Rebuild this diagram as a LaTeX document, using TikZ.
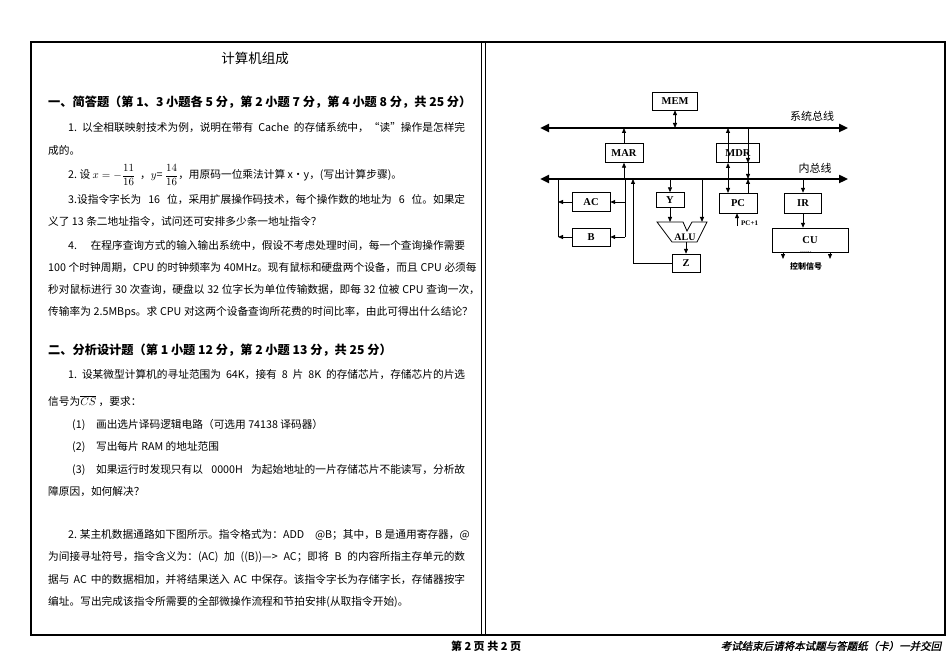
\documentclass[tikz,border=0pt]{standalone}
\usepackage{amsmath}
\usepackage{fontspec}
\setmainfont{Noto Sans CJK SC}
\newfontfamily\tnr{Liberation Serif}
\newfontfamily\cjkit[FakeSlant=0.2,FakeBold=1.5]{Noto Sans CJK SC}
\usetikzlibrary{arrows.meta}
\XeTeXlinebreaklocale "zh"
\XeTeXlinebreakskip=0pt plus 3pt minus 1pt
\newcommand\JA[1]{\spaceskip=0.3em plus 0.5pt minus 0.5pt\hbox to 397pt{#1}}
\newcommand\JB[1]{\spaceskip=0.3em plus 0.5pt minus 0.5pt\hbox to 417pt{#1}}
\begin{document}
\begin{tikzpicture}[x=1pt,y=-1pt,
  txt/.style={anchor=west,inner sep=0pt,font=\fontsize{10.7}{12}\selectfont},
  hd/.style={anchor=west,inner sep=0pt,font=\fontsize{12.2}{14}\selectfont\bfseries},
  reg/.style={draw,inner sep=0pt,font=\tnr\bfseries\fontsize{10.5}{12}\selectfont},
  bus/.style={line width=2.6pt,{Triangle[length=9pt,width=8pt]}-{Triangle[length=9pt,width=8pt]}},
  ar/.style={-{Triangle[length=5pt,width=4pt]},line width=0.8pt},
  dar/.style={{Triangle[length=5pt,width=4pt]}-{Triangle[length=5pt,width=4pt]},line width=0.8pt},
  ln/.style={line width=0.8pt}]
\useasboundingbox (0,0) rectangle (950,671);
\fill[white] (0,0) rectangle (950,671);
% frame
\draw[line width=1.3pt] (31,42) rectangle (945,635);
\draw[line width=0.8pt] (481,42) -- (481,635);
\draw[line width=0.8pt] (485,42) -- (485,635);
% left column text
\node[anchor=center,inner sep=0pt,font=\fontsize{13.5}{15}\selectfont] (title) at (255,58) {计算机组成};
\node[hd] (h1) at (48,102) {一、简答题（第 1、3 小题各 5 分，第 2 小题 7 分，第 4 小题 8 分，共 25 分）};
\node[txt] (l1) at (68,128) {\JA{1.\ 以全相联映射技术为例，说明在带有 Cache 的存储系统中，“读”操作是怎样完}};
\node[txt] (l2) at (48,150) {成的。};
\node[txt] (l3) at (68,175) {2.\ 设 $x=-\dfrac{11}{16}$ \ ，$y$= $\dfrac{14}{16}$，用原码一位乘法计算 x•y，(写出计算步骤)。};
\node[txt] (l4) at (68,200) {\JA{3.设指令字长为 16 位，采用扩展操作码技术，每个操作数的地址为 6 位。如果定}};
\node[txt] (l5) at (48,222) {义了 13 条二地址指令，试问还可安排多少条一地址指令？};
\node[txt] (l6) at (68,246) {\JA{4.\ 在程序查询方式的输入输出系统中，假设不考虑处理时间，每一个查询操作需要}};
\node[txt] (l7) at (48,268) {\JB{100 个时钟周期，CPU 的时钟频率为 40MHz。现有鼠标和硬盘两个设备，而且 CPU 必须每}};
\node[txt] (l8) at (48,290) {\JB{秒对鼠标进行 30 次查询，硬盘以 32 位字长为单位传输数据，即每 32 位被 CPU 查询一次，}};
\node[txt] (l9) at (48,312) {\JB{传输率为 2.5MBps。求 CPU 对这两个设备查询所花费的时间比率，由此可得出什么结论？}};
\node[hd] (h2) at (48,350) {二、分析设计题（第 1 小题 12 分，第 2 小题 13 分，共 25 分）};
\node[txt] (m1) at (68,375) {\JA{1.\ 设某微型计算机的寻址范围为 64K，接有 8 片 8K 的存储芯片，存储芯片的片选}};
\node[txt] (m2) at (48,401) {信号为$\overline{CS}$ ，要求：};
\node[txt] (m3) at (72,425) {(1)\quad 画出选片译码逻辑电路（可选用 74138 译码器）};
\node[txt] (m4) at (72,447) {(2)\quad 写出每片 RAM 的地址范围};
\node[txt] (m5) at (72,470) {\spaceskip=0.3em plus 0.5pt minus 0.5pt\hbox to 393pt{(3)\quad 如果运行时发现只有以 0000H 为起始地址的一片存储芯片不能读写，分析故}};
\node[txt] (m6) at (48,492) {障原因，如何解决？};
\node[txt] (n1) at (68,535) {\JA{2.\ 某主机数据通路如下图所示。指令格式为：ADD\quad @B；其中，B 是通用寄存器，@}};
\node[txt] (n2) at (48,557) {\JB{为间接寻址符号，指令含义为：(AC) 加 ((B))—> AC；即将 B 的内容所指主存单元的数}};
\node[txt] (n3) at (48,580) {\JB{据与 AC 中的数据相加，并将结果送入 AC 中保存。该指令字长为存储字长，存储器按字}};
\node[txt] (n4) at (48,602) {编址。写出完成该指令所需要的全部微操作流程和节拍安排(从取指令开始)。};
% footer
\node[inner sep=0pt,font=\fontsize{11}{12}\selectfont\bfseries] (pg) at (486,646) {第 2 页 共 2 页};
\node[inner sep=0pt,font=\cjkit\fontsize{10.5}{12}\selectfont] (ft) at (831,646) {考试结束后请将本试题与答题纸（卡）一并交回};
% diagram
\coordinate (sbL) at (540,128); \coordinate (sbR) at (848,128);
\coordinate (ibL) at (540,179); \coordinate (ibR) at (848,179);
\draw[bus] (sbL) -- (sbR);
\draw[bus] (ibL) -- (ibR);
\node[inner sep=0pt,font=\fontsize{11}{12}\selectfont] (sbt) at (812,116) {系统总线};
\node[inner sep=0pt,font=\fontsize{11}{12}\selectfont] (ibt) at (815,168) {内总线};
\node[reg,minimum width=45pt,minimum height=18pt] (MEM) at (675,101) {MEM};
\node[reg,minimum width=38pt,minimum height=19pt] (MAR) at (624,153) {MAR};
\node[reg,minimum width=43pt,minimum height=19pt] (MDR) at (738,153) {MDR};
\node[reg,minimum width=38pt,minimum height=20pt] (PC) at (738,203) {PC};
\node[reg,minimum width=37pt,minimum height=20pt] (IR) at (803,203) {IR};
\node[reg,minimum width=76pt,minimum height=24pt] (CU) at (810,240) {CU};
\node[reg,minimum width=28pt,minimum height=15pt] (Y) at (670,200) {Y};
\node[reg,minimum width=28pt,minimum height=18pt] (Z) at (686,263) {Z};
\node[reg,minimum width=38pt,minimum height=19pt] (AC) at (591,202) {AC};
\node[reg,minimum width=38pt,minimum height=18pt] (B) at (591,237) {B};
% ALU
\draw[ln] (657,222) -- (683,222) -- (687,231) -- (692,222) -- (707,222) -- (697,242) -- (672,242) -- cycle;
\node[inner sep=0pt,font=\tnr\bfseries\fontsize{10}{12}\selectfont] (ALU) at (685,237) {ALU};
\coordinate (aluB) at (686,242);
% connectors
\draw[dar] (MEM.south) -- (MEM.south |- sbL);
\draw[ar] (MAR.north) -- (MAR.north |- sbL);
\draw[ar] (MAR.south |- ibL) -- (MAR.south);
\draw[ar] (728,179) -- (728,163);
\draw[ar] (728,163) -- (728,128);
\draw[ar] (748,128) -- (748,163);
\draw[ar] (748,163) -- (748,179);
\draw[ar] (728,179) -- (728,193);
\draw[ar] (748,193) -- (748,179);
\coordinate (pcin) at (737,226);
\draw[ar] (pcin) -- (PC.south -| pcin);
\node[anchor=west,inner sep=0pt,font=\tnr\bfseries\fontsize{7}{8}\selectfont] (pc1) at (741,223) {PC+1};
\draw[ar] (IR.north |- ibL) -- (IR.north);
\draw[ar] (IR.south) -- (IR.south |- CU.north);
\coordinate (c1) at (783,259); \coordinate (c2) at (830,259);
\draw[ar] (CU.south -| c1) -- (c1);
\draw[ar] (CU.south -| c2) -- (c2);
\node[inner sep=0pt,font=\fontsize{7}{8}\selectfont] (dots) at (806,252) {......};
\node[inner sep=0pt,font=\fontsize{8}{9}\selectfont\bfseries] (ctl) at (806,266) {控制信号};
\draw[ar] (670,179) -- (Y.north);
\draw[ar] (Y.south) -- (670,222);
\draw[ar] (702,179) -- (702,222);
\draw[ar] (aluB) -- (Z.north);
\draw[ar] (Z.west) -- (633,263) -- (633,179);
% AC/B
\draw[ln] (625,179) -- (625,237);
\draw[ar] (625,202) -- (AC.east);
\draw[ar] (625,237) -- (B.east);
\draw[ln] (558,179) -- (558,237);
\draw[ar] (AC.west) -- (558,202);
\draw[ar] (B.west) -- (558,237);
\end{tikzpicture}
\end{document}
